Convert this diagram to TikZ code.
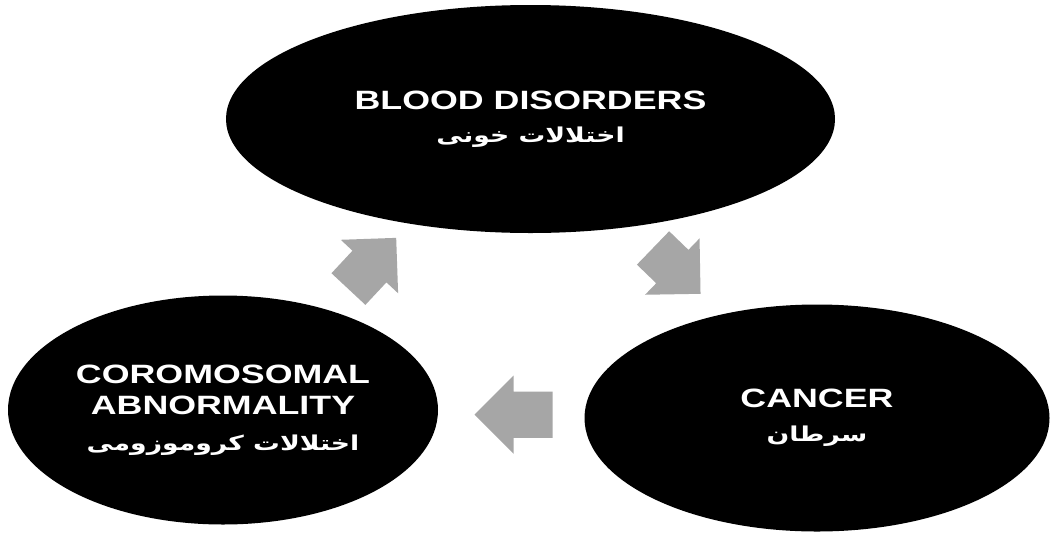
\documentclass[tikz,border=0pt]{standalone}
\usepackage{fontspec}
\setmainfont{Liberation Sans}
\newfontfamily\arabicfont[Script=Arabic]{DejaVu Sans}
\TeXXeTstate=1
\usetikzlibrary{shapes.geometric,shapes.arrows}
\definecolor{arrowgray}{RGB}{166,166,166}
\newcommand\widetext[1]{\scalebox{1.35}[1]{#1}}
\newcommand\fatext[1]{\scalebox{1.3}[1]{\arabicfont\fontsize{20.5}{24}\selectfont\beginR #1\endR}}
\begin{document}
\begin{tikzpicture}[x=1pt,y=-1pt,
  blob/.style={ellipse, fill=black, inner sep=0pt, text=white, align=center,
    font=\bfseries\fontsize{26.5}{31}\selectfont},
  blockarrow/.style={single arrow, fill=arrowgray, draw=none, anchor=tail,
    inner xsep=0pt, inner ysep=23pt, single arrow head extend=16pt}]
\useasboundingbox (0,0) rectangle (1051,536);
\fill[white] (0,0) rectangle (1051,536);
\node[blob, minimum width=609pt, minimum height=228pt] (blood) at (530.5,119)
  {\widetext{BLOOD DISORDERS}\\[2pt]\fatext{اختلالات خونی}};
\node[blob, minimum width=465pt, minimum height=227pt] (cancer) at (817,418)
  {\widetext{CANCER}\\[3pt]\fatext{سرطان}};
\node[blob, minimum width=430pt, minimum height=229pt] (chrom) at (223,410)
  {\widetext{COROMOSOMAL}\\\widetext{ABNORMALITY}\\[5pt]\fatext{اختلالات کروموزومی}};
\node[blockarrow, minimum height=70pt, rotate=47] (a1) at (348.3,289.2) {};
\node[blockarrow, minimum height=66pt, rotate=-44] (a2) at (652.9,247.8) {};
\node[blockarrow, minimum height=78pt, rotate=180] (a3) at (552.7,414.7) {};
\end{tikzpicture}
\end{document}
